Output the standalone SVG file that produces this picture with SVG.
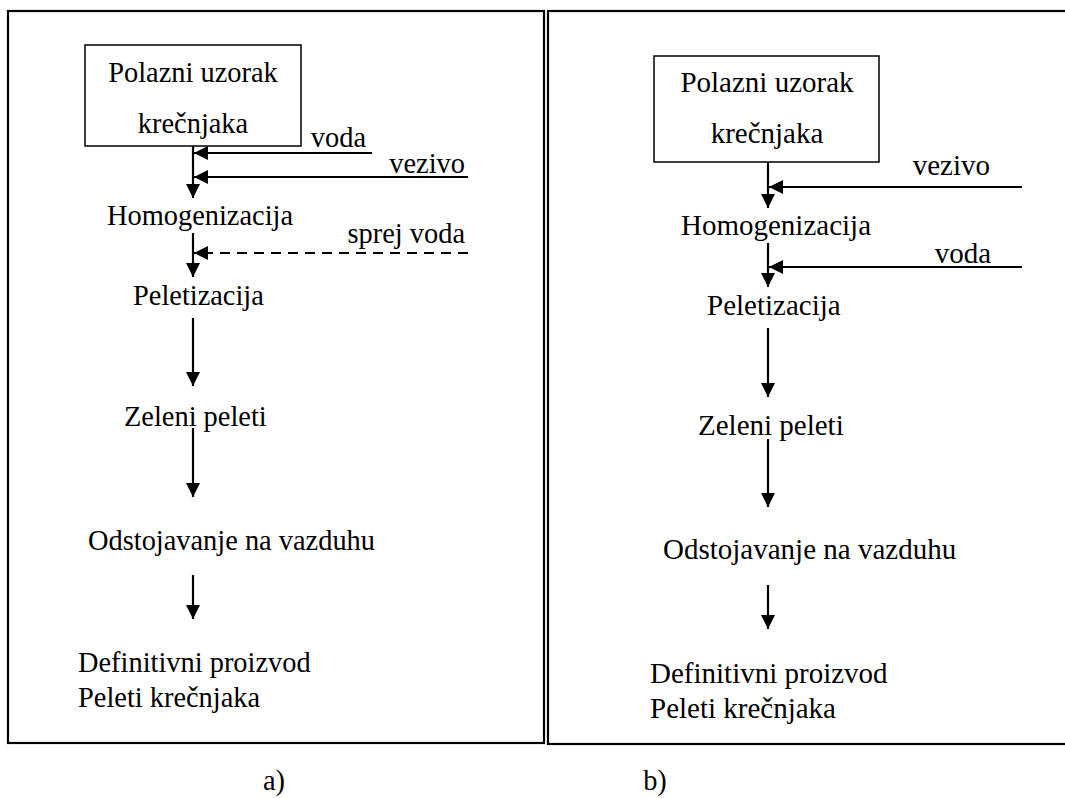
<svg xmlns="http://www.w3.org/2000/svg" width="1065" height="798" viewBox="0 0 1065 798">
<style>
.panel{fill:none;stroke:#000;stroke-width:2.2}
.box{fill:#fff;stroke:#000;stroke-width:1.5}
.t{fill:#000}
.l{font-size:28.4px}
.r{font-size:29px}
.c{stroke:#000;stroke-width:2.2;fill:none;marker-end:url(#ah)}
.d{stroke-dasharray:10 7}
</style>
<defs>
<marker id="ah" markerUnits="userSpaceOnUse" markerWidth="16" markerHeight="14" refX="14" refY="7" orient="auto">
<path d="M0,0 L14,7 L0,14 Z" fill="#000"/>
</marker>
</defs>
<rect class="panel" x="8" y="11" width="536" height="732"/>
<rect class="panel" x="548" y="11" width="530" height="733"/>
<g id="connectors">
<line class="c" x1="193" y1="135" x2="193" y2="198"/>
<line class="c" x1="372" y1="153" x2="194" y2="153"/>
<line class="c" x1="468" y1="177" x2="194" y2="177"/>
<line class="c" x1="193" y1="233" x2="193" y2="277"/>
<line class="c d" x1="468" y1="253" x2="194" y2="253"/>
<line class="c" x1="193" y1="318" x2="193" y2="386"/>
<line class="c" x1="193" y1="428" x2="193" y2="497"/>
<line class="c" x1="193" y1="575" x2="193" y2="619"/>
<line class="c" x1="768" y1="147" x2="768" y2="208"/>
<line class="c" x1="1022" y1="187" x2="769" y2="187"/>
<line class="c" x1="768" y1="243" x2="768" y2="287"/>
<line class="c" x1="1022" y1="267" x2="769" y2="267"/>
<line class="c" x1="768" y1="328" x2="768" y2="397"/>
<line class="c" x1="768" y1="439" x2="768" y2="507"/>
<line class="c" x1="768" y1="585" x2="768" y2="629"/>
</g>
<g font-family="'Liberation Serif', 'Times New Roman', serif">
<g id="a-start"><rect class="box" x="85" y="45" width="216" height="101"/>
<text class="t l" x="193" y="82" text-anchor="middle">Polazni uzorak</text>
<text class="t l" x="193" y="133" text-anchor="middle">krečnjaka</text></g>
<g id="a-voda"><text class="t l" x="366" y="147" text-anchor="end">voda</text></g>
<g id="a-vezivo"><text class="t l" x="465" y="173" text-anchor="end">vezivo</text></g>
<g id="a-homog"><text class="t l" x="107" y="225">Homogenizacija</text></g>
<g id="a-sprej"><text class="t l" x="465" y="243" text-anchor="end">sprej voda</text></g>
<g id="a-pelet"><text class="t l" x="133" y="305">Peletizacija</text></g>
<g id="a-zeleni"><text class="t l" x="124" y="426">Zeleni peleti</text></g>
<g id="a-odst"><text class="t l" x="88" y="550">Odstojavanje na vazduhu</text></g>
<g id="a-def"><text class="t l" x="78" y="672">Definitivni proizvod</text>
<text class="t l" x="78" y="707">Peleti krečnjaka</text></g>
<g id="b-start"><rect class="box" x="654" y="56" width="225" height="106"/>
<text class="t r" x="767" y="92" text-anchor="middle">Polazni uzorak</text>
<text class="t r" x="767" y="143" text-anchor="middle">krečnjaka</text></g>
<g id="b-vezivo"><text class="t r" x="990" y="175" text-anchor="end">vezivo</text></g>
<g id="b-homog"><text class="t r" x="681" y="235">Homogenizacija</text></g>
<g id="b-voda"><text class="t r" x="991" y="263" text-anchor="end">voda</text></g>
<g id="b-pelet"><text class="t r" x="707" y="315">Peletizacija</text></g>
<g id="b-zeleni"><text class="t r" x="698" y="435">Zeleni peleti</text></g>
<g id="b-odst"><text class="t r" x="663" y="559">Odstojavanje na vazduhu</text></g>
<g id="b-def"><text class="t r" x="650" y="683">Definitivni proizvod</text>
<text class="t r" x="650" y="718">Peleti krečnjaka</text></g>
<g id="captions"><text class="t l" x="274" y="790" text-anchor="middle">a)</text>
<text class="t l" x="655" y="790" text-anchor="middle">b)</text></g>
</g>
</svg>
